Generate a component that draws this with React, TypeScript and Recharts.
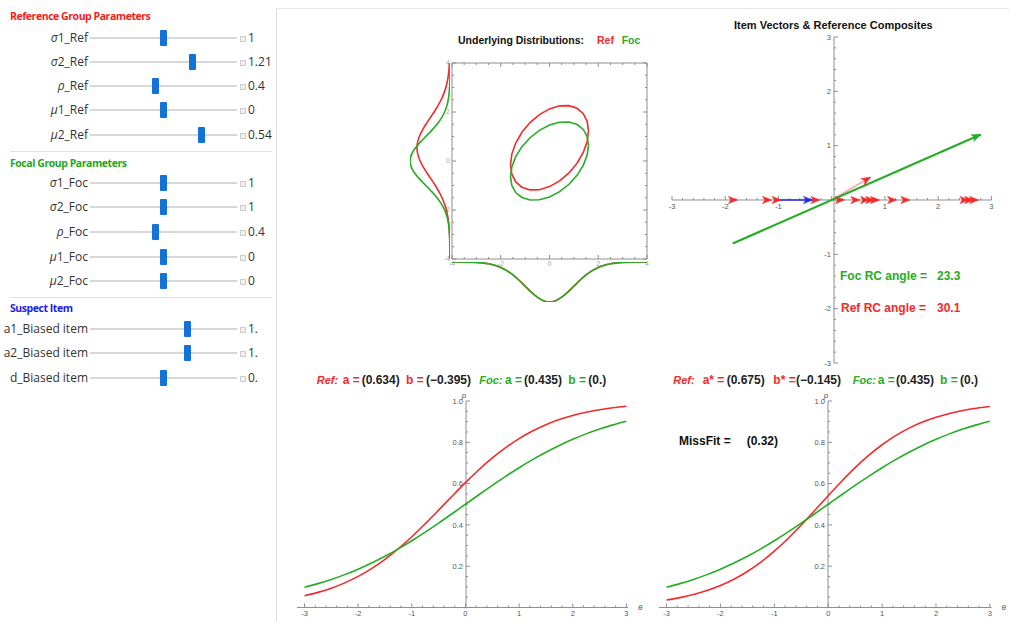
import React from 'react';
import { LineChart, Line, XAxis, YAxis, ComposedChart, Scatter } from 'recharts';

// ---------------- parameter panel ----------------
const refLabels = ['σ1_Ref', 'σ2_Ref', 'ρ_Ref', 'μ1_Ref', 'μ2_Ref'];
const refValues = ['1', '1.21', '0.4', '0', '0.54'];
const refSlider = [0.5, 0.71, 0.44, 0.5, 0.77];
const focLabels = ['σ1_Foc', 'σ2_Foc', 'ρ_Foc', 'μ1_Foc', 'μ2_Foc'];
const focValues = ['1', '1', '0.4', '0', '0'];
const focSlider = [0.5, 0.5, 0.44, 0.5, 0.5];
const itemLabels = ['a1_Biased item', 'a2_Biased item', 'd_Biased item'];
const itemValues = ['1.', '1.', '0.'];
const itemSlider = [0.67, 0.67, 0.5];

// ---------------- underlying distributions ----------------
const ellipseX = [1.6, 1.5455, 1.3856, 1.1314, 0.8, 0.4141, 0, -0.4141, -0.8, -1.1314, -1.3856, -1.5455, -1.6, -1.5455, -1.3856, -1.1314, -0.8, -0.4141, 0, 0.4141, 0.8, 1.1314, 1.3856, 1.5455, 1.6];
const focEllipseY = [0.64, 0.9977, 1.2875, 1.4894, 1.59, 1.582, 1.4664, 1.2508, 0.95, 0.5844, 0.1789, -0.2387, -0.64, -0.9977, -1.2875, -1.4894, -1.59, -1.582, -1.4664, -1.2508, -0.95, -0.5844, -0.1789, 0.2387, 0.64];
const refEllipseY = [1.232, 1.619, 1.932, 2.15, 2.259, 2.251, 2.126, 1.892, 1.567, 1.172, 0.734, 0.282, -0.152, -0.539, -0.852, -1.07, -1.179, -1.171, -1.046, -0.812, -0.487, -0.092, 0.347, 0.798, 1.232];

const margGrid = [-4, -3.75, -3.5, -3.25, -3, -2.75, -2.5, -2.25, -2, -1.75, -1.5, -1.25, -1, -0.75, -0.5, -0.25, 0, 0.25, 0.5, 0.75, 1, 1.25, 1.5, 1.75, 2, 2.25, 2.5, 2.75, 3, 3.25, 3.5, 3.75, 4];
const focDensityY = [0.0001, 0.0004, 0.0009, 0.002, 0.0044, 0.0091, 0.0175, 0.0317, 0.054, 0.0863, 0.1295, 0.1826, 0.242, 0.3011, 0.3521, 0.3867, 0.3989, 0.3867, 0.3521, 0.3011, 0.242, 0.1826, 0.1295, 0.0863, 0.054, 0.0317, 0.0175, 0.0091, 0.0044, 0.002, 0.0009, 0.0004, 0.0001];
const refDensityY = [0.0003, 0.0006, 0.0013, 0.0024, 0.0046, 0.0082, 0.014, 0.0231, 0.0364, 0.055, 0.0796, 0.1104, 0.1467, 0.1868, 0.2279, 0.2664, 0.2984, 0.3204, 0.3295, 0.3248, 0.3067, 0.2775, 0.2407, 0.2, 0.1592, 0.1215, 0.0888, 0.0622, 0.0417, 0.0268, 0.0165, 0.0098, 0.0055];
const focDensityX = [0.0001, 0.0004, 0.0009, 0.002, 0.0044, 0.0091, 0.0175, 0.0317, 0.054, 0.0863, 0.1295, 0.1826, 0.242, 0.3011, 0.3521, 0.3867, 0.3989, 0.3867, 0.3521, 0.3011, 0.242, 0.1826, 0.1295, 0.0863, 0.054, 0.0317, 0.0175, 0.0091, 0.0044, 0.002, 0.0009, 0.0004, 0.0001];
const refDensityX = [0.0001, 0.0004, 0.0009, 0.002, 0.0044, 0.0091, 0.0175, 0.0317, 0.054, 0.0863, 0.1295, 0.1826, 0.242, 0.3011, 0.3521, 0.3867, 0.3989, 0.3867, 0.3521, 0.3011, 0.242, 0.1826, 0.1295, 0.0863, 0.054, 0.0317, 0.0175, 0.0091, 0.0044, 0.002, 0.0009, 0.0004, 0.0001];

// ---------------- item vectors ----------------
const focVecX = [-1.86, 2.8];
const focVecY = [-0.8, 1.206];
const refVecX = [0, 0.73];
const refVecY = [0, 0.42];
const itemVecX = [-1.02, -0.36];
const itemVecY = [0, 0];
const axisItemTips = [-1.77, -1.13, -0.95, -0.22, 0.24, 0.53, 0.71, 0.81, 0.9, 1.22, 1.47, 2.58, 2.67, 2.76];
const focAngle = '23.3';
const refAngle = '30.1';

// ---------------- ICCs ----------------
const thetaGrid = [-3, -2.75, -2.5, -2.25, -2, -1.75, -1.5, -1.25, -1, -0.75, -0.5, -0.25, 0, 0.25, 0.5, 0.75, 1, 1.25, 1.5, 1.75, 2, 2.25, 2.5, 2.75, 3];
const iccFoc = [0.0981, 0.1157, 0.136, 0.1592, 0.1856, 0.2151, 0.248, 0.2841, 0.3231, 0.3648, 0.4086, 0.4539, 0.5, 0.5461, 0.5914, 0.6352, 0.6769, 0.7159, 0.752, 0.7849, 0.8144, 0.8408, 0.864, 0.8843, 0.9019];
const iccRefObserved = [0.0569, 0.0732, 0.0937, 0.1193, 0.1506, 0.1884, 0.2331, 0.2847, 0.3425, 0.4055, 0.4717, 0.539, 0.6049, 0.6671, 0.7241, 0.7745, 0.8181, 0.8548, 0.8852, 0.9099, 0.9296, 0.9454, 0.9577, 0.9674, 0.9749];
const iccRefComposite = [0.0364, 0.0479, 0.0628, 0.082, 0.1063, 0.1369, 0.1744, 0.2196, 0.2727, 0.3331, 0.3995, 0.4699, 0.5415, 0.6114, 0.677, 0.7363, 0.7881, 0.8322, 0.8685, 0.8979, 0.9214, 0.9398, 0.9541, 0.9652, 0.9736];
const missFit = '(0.32)';

// ---------------- styles ----------------
const RED = '#f42a2a';
const GREEN = '#25ad25';
const BLUE = '#2a2ae6';
const AXIS = '#8e8e8e';
const FONT_UI = '"Open Sans", "Noto Sans", sans-serif';
const FONT_M = '"Liberation Sans", Arial, sans-serif';

const range = (a: number, b: number, s: number) => {
  const n = Math.round((b - a) / s);
  const out: number[] = [];
  for (let i = 0; i <= n; i++) out.push(Math.round((a + i * s) * 10000) / 10000);
  return out;
};
const distTicks = range(-4, 4, 0.5);
const vecTicks = range(-3, 3, 0.2);
const iccXTicks = range(-3, 3, 0.2);
const iccYTicks = range(0.05, 1, 0.05);

const at = (l: number, t: number): React.CSSProperties => ({ position: 'absolute', left: l, top: t });

type TickOpt = { major: number; majLen: number; minLen: number; labels?: boolean; hideZero?: boolean; digits?: number; color?: string; size?: number; gap?: number };
function mkTick(side: 'bottom' | 'top' | 'left' | 'right', o: TickOpt) {
  return (p: any) => {
    const v = Number(p.payload?.value);
    const isMaj = Math.abs(v / o.major - Math.round(v / o.major)) < 1e-6;
    const len = isMaj ? o.majLen : o.minLen;
    const x = p.x, y = p.y;
    const show = !!o.labels && isMaj && !(o.hideZero && Math.abs(v) < 1e-9);
    const txt = o.digits != null ? v.toFixed(o.digits) : String(Math.round(v * 100) / 100);
    const fs = o.size ?? 7.5;
    const gap = o.gap ?? 3;
    const fill = o.color ?? '#555';
    let ln: any = null, tx: any = null;
    if (side === 'bottom') {
      ln = <line x1={x} y1={y} x2={x} y2={y - len} stroke={AXIS} />;
      if (show) tx = <text x={x} y={y + gap + fs * 0.75} textAnchor="middle" fontSize={fs} fill={fill} fontFamily={FONT_M}>{txt}</text>;
    } else if (side === 'top') {
      ln = <line x1={x} y1={y} x2={x} y2={y + len} stroke={AXIS} />;
    } else if (side === 'left') {
      ln = <line x1={x} y1={y} x2={x + len} y2={y} stroke={AXIS} />;
      if (show) tx = <text x={x - gap} y={y + fs * 0.35} textAnchor="end" fontSize={fs} fill={fill} fontFamily={FONT_M}>{txt}</text>;
    } else {
      ln = <line x1={x} y1={y} x2={x - len} y2={y} stroke={AXIS} />;
    }
    return <g>{ln}{tx}</g>;
  };
}

const axisCommon = { interval: 0 as const, tickSize: 0, tickMargin: 0, tickLine: false, allowDataOverflow: true, axisLine: { stroke: AXIS } };

function Txt({ x, y, size = 12, color = '#111', bold = true, italic = false, font = FONT_M, children }: any) {
  const lh = Math.round(size * 1.25);
  return (
    <div style={{ position: 'absolute', left: x, top: y - lh / 2, fontSize: size, lineHeight: `${lh}px`, fontFamily: font, fontWeight: bold ? 700 : 400, fontStyle: italic ? 'italic' : 'normal', color, whiteSpace: 'pre' }}>
      {children}
    </div>
  );
}

function Arrowhead({ cx, cy, angle, color }: any) {
  return <path d="M0,0 L-9,-3.6 L-6.6,0 L-9,3.6 Z" fill={color} stroke={color} strokeWidth={0.6} strokeLinejoin="round" transform={`translate(${cx},${cy}) rotate(${angle})`} />;
}

const tipDot = (color: string, xs: number[], ys: number[]) => (p: any) => {
  const last = xs.length - 1;
  if (p.index !== last) return <g key={`n${p.index}`} />;
  let ang: number;
  if (p.points && p.points.length > 1) {
    const a = p.points[last - 1], b = p.points[last];
    ang = (Math.atan2(b.y - a.y, b.x - a.x) * 180) / Math.PI;
  } else {
    ang = (-Math.atan2(ys[last] - ys[last - 1], xs[last] - xs[last - 1]) * 180) / Math.PI;
  }
  return <Arrowhead key={`t${p.index}`} cx={p.cx} cy={p.cy} angle={ang} color={color} />;
};

// ---------------- components ----------------
function Label({ s }: { s: string }) {
  if (/[σρμ]/.test(s[0])) return <><i>{s[0]}</i>{s.slice(1)}</>;
  return <>{s}</>;
}

function SliderRow({ y, label, value, frac }: any) {
  return (
    <>
      <div style={{ position: 'absolute', left: 0, width: 88, top: y - 9, height: 18, lineHeight: '18px', textAlign: 'right', fontFamily: FONT_UI, fontSize: 12, color: '#333', whiteSpace: 'pre' }}>
        <Label s={label} />
      </div>
      <div style={{ position: 'absolute', left: 90, top: y - 1, width: 147, height: 2, background: '#d8d8d8' }} />
      <div style={{ position: 'absolute', left: 93.5 + frac * 140 - 3.5, top: y - 8, width: 7, height: 16, background: '#1272d8', borderRadius: 1 }} />
      <div style={{ position: 'absolute', left: 240, top: y - 2, width: 4, height: 4, border: '1px solid #cdcdcd', background: '#f0f0f0' }} />
      <div style={{ position: 'absolute', left: 248, top: y - 9, height: 18, lineHeight: '18px', fontFamily: FONT_UI, fontSize: 12, color: '#333' }}>{value}</div>
    </>
  );
}

function Header({ y, color, children }: any) {
  return (
    <div style={{ position: 'absolute', left: 10, top: y - 8, lineHeight: '16px', fontFamily: FONT_UI, fontWeight: 700, fontSize: 10.5, letterSpacing: -0.45, color, whiteSpace: 'pre' }}>{children}</div>
  );
}

function ParamPanel() {
  const refY = [37.7, 62, 86, 110.3, 135];
  const focY = [183.3, 207.3, 232.3, 256.7, 280.7];
  const itemY = [329.3, 352.7, 377.7];
  return (
    <>
      <Header y={16} color="#f21e1e">Reference Group Parameters</Header>
      {refLabels.map((l, i) => <SliderRow key={l} y={refY[i]} label={l} value={refValues[i]} frac={refSlider[i]} />)}
      <div style={{ position: 'absolute', left: 10, top: 151, width: 262, height: 1, background: '#e2e2e2' }} />
      <Header y={162.7} color="#1ea81e">Focal Group Parameters</Header>
      {focLabels.map((l, i) => <SliderRow key={l} y={focY[i]} label={l} value={focValues[i]} frac={focSlider[i]} />)}
      <div style={{ position: 'absolute', left: 10, top: 296.7, width: 262, height: 1, background: '#e2e2e2' }} />
      <Header y={308.3} color="#1c1cf0">Suspect Item</Header>
      {itemLabels.map((l, i) => <SliderRow key={l} y={itemY[i]} label={l} value={itemValues[i]} frac={itemSlider[i]} />)}
    </>
  );
}

function DistributionPanel() {
  const focE = ellipseX.map((x, i) => ({ x, y: focEllipseY[i] }));
  const refE = ellipseX.map((x, i) => ({ x, y: refEllipseY[i] }));
  const leftRef = margGrid.map((y, i) => ({ d: refDensityY[i], y }));
  const leftFoc = margGrid.map((y, i) => ({ d: focDensityY[i], y }));
  const botRef = margGrid.map((x, i) => ({ x, d: refDensityX[i] }));
  const botFoc = margGrid.map((x, i) => ({ x, d: focDensityX[i] }));
  const frameOpt = { major: 2, majLen: 4, minLen: 2, labels: true, color: '#a8a8a8', size: 7, gap: 2 };
  return (
    <>
      <Txt x={458} y={40} size={10.5}>Underlying Distributions:</Txt>
      <Txt x={597} y={40} size={10.5} color={RED}>Ref</Txt>
      <Txt x={621.7} y={40} size={10.5} color={GREEN}>Foc</Txt>
      <div style={at(431.7, 57.3)}>
        <ComposedChart width={221} height={216} margin={{ top: 0, right: 0, bottom: 0, left: 0 }}>
          <XAxis xAxisId="b" type="number" dataKey="x" domain={[-4, 4]} ticks={distTicks} {...axisCommon} height={14} tick={mkTick('bottom', frameOpt)} />
          <XAxis xAxisId="t" orientation="top" type="number" dataKey="x" domain={[-4, 4]} ticks={distTicks} {...axisCommon} height={6} tick={mkTick('top', { ...frameOpt, labels: false })} />
          <YAxis yAxisId="l" type="number" domain={[-4, 4]} ticks={distTicks} {...axisCommon} width={20} tick={mkTick('left', frameOpt)} />
          <YAxis yAxisId="r" orientation="right" type="number" domain={[-4, 4]} ticks={distTicks} {...axisCommon} width={6} tick={mkTick('right', { ...frameOpt, labels: false })} />
          <Line xAxisId="b" yAxisId="l" data={refE} dataKey="y" type="linear" stroke={RED} strokeWidth={1.6} dot={false} isAnimationActive={false} />
          <Line xAxisId="b" yAxisId="l" data={focE} dataKey="y" type="linear" stroke={GREEN} strokeWidth={1.6} dot={false} isAnimationActive={false} />
        </ComposedChart>
      </div>
      <div style={at(406, 59.3)}>
        <LineChart width={48} height={204} margin={{ top: 4, right: 4, bottom: 4, left: 4 }}>
          <XAxis type="number" dataKey="d" domain={[0, 0.4]} reversed hide allowDataOverflow />
          <YAxis type="number" domain={[-4, 4]} hide allowDataOverflow />
          <Line data={leftRef} dataKey="y" type="natural" stroke={RED} strokeWidth={1.6} dot={false} isAnimationActive={false} />
          <Line data={leftFoc} dataKey="y" type="natural" stroke={GREEN} strokeWidth={1.6} dot={false} isAnimationActive={false} />
        </LineChart>
      </div>
      <div style={at(447.7, 258.3)}>
        <LineChart width={203} height={48} margin={{ top: 4, right: 4, bottom: 4, left: 4 }}>
          <XAxis type="number" dataKey="x" domain={[-4, 4]} hide allowDataOverflow />
          <YAxis type="number" domain={[0, 0.4]} reversed hide allowDataOverflow />
          <Line data={botRef} dataKey="d" type="monotone" stroke={RED} strokeWidth={1.6} dot={false} isAnimationActive={false} />
          <Line data={botFoc} dataKey="d" type="monotone" stroke={GREEN} strokeWidth={1.6} dot={false} isAnimationActive={false} />
        </LineChart>
      </div>
    </>
  );
}

function VectorPanel() {
  const VX0 = 672.3, VX1 = 991.7, VY_TOP = 37.3, VY_BOT = 363.3, AX_Y = 200.3, AX_X = 834;
  const pw = VX1 - VX0, ph = VY_BOT - VY_TOP;
  const focData = focVecX.map((x, i) => ({ x, y: focVecY[i] }));
  const refData = refVecX.map((x, i) => ({ x, y: refVecY[i] }));
  const itemData = itemVecX.map((x, i) => ({ x, y: itemVecY[i] }));
  const tipData = axisItemTips.map((x) => ({ x, y: 0 }));
  const axOpt = { major: 1, majLen: 4, minLen: 2, labels: true, hideZero: true, size: 7.5, gap: 3 };
  return (
    <>
      <Txt x={734} y={24.7} size={11}>Item Vectors &amp; Reference Composites</Txt>
      <div style={at(VX0 - 10, AX_Y - 10)}>
        <LineChart width={pw + 20} height={30} margin={{ top: 0, right: 10, bottom: 0, left: 10 }}>
          <XAxis type="number" dataKey="x" domain={[-3, 3]} ticks={vecTicks} {...axisCommon} height={20} tick={mkTick('bottom', axOpt)} />
          <YAxis type="number" domain={[0, 1]} hide />
        </LineChart>
      </div>
      <div style={at(AX_X - 20, VY_TOP - 10)}>
        <LineChart width={30} height={ph + 20} margin={{ top: 10, right: 0, bottom: 10, left: 0 }}>
          <XAxis type="number" dataKey="x" domain={[0, 1]} hide />
          <YAxis type="number" domain={[-3, 3]} ticks={vecTicks} {...axisCommon} width={20} tick={mkTick('left', axOpt)} />
        </LineChart>
      </div>
      <div style={at(VX0 - 10, VY_TOP - 10)}>
        <ComposedChart width={pw + 20} height={ph + 20} margin={{ top: 10, right: 10, bottom: 10, left: 10 }}>
          <XAxis type="number" dataKey="x" domain={[-3, 3]} hide allowDataOverflow />
          <YAxis type="number" dataKey="y" domain={[-3, 3]} hide allowDataOverflow />
          <Line data={refData} dataKey="y" type="linear" stroke="#f6a3a3" strokeWidth={1.6} dot={tipDot(RED, refVecX, refVecY)} isAnimationActive={false} />
          <Line data={itemData} dataKey="y" type="linear" stroke={BLUE} strokeWidth={1.6} dot={tipDot(BLUE, itemVecX, itemVecY)} isAnimationActive={false} />
          <Scatter data={tipData} fill={RED} isAnimationActive={false} shape={(p: any) => <Arrowhead cx={p.cx} cy={p.cy} angle={0} color={RED} />} />
          <Line data={focData} dataKey="y" type="linear" stroke={GREEN} strokeWidth={2.2} dot={tipDot(GREEN, focVecX, focVecY)} isAnimationActive={false} />
        </ComposedChart>
      </div>
      <Txt x={840} y={276} color={GREEN}>Foc RC angle =</Txt>
      <Txt x={937} y={276} color={GREEN}>{focAngle}</Txt>
      <Txt x={841} y={308.3} color={RED}>Ref RC angle =</Txt>
      <Txt x={937} y={308.3} color={RED}>{refAngle}</Txt>
    </>
  );
}

function IccChart({ plotLeft, plotRight, axisX, refSeries }: any) {
  const TOP = 400.5, BOT = 607;
  const ph = BOT - TOP;
  const pw = plotRight - plotLeft;
  const rows = thetaGrid.map((t, i) => ({ t, ref: refSeries[i], foc: iccFoc[i] }));
  const xOpt = { major: 1, majLen: 4, minLen: 2, labels: true, size: 7.5, gap: 3 };
  const yOpt = { major: 0.2, majLen: 4, minLen: 2, labels: true, hideZero: true, digits: 1, size: 7.5, gap: 3 };
  return (
    <>
      <div style={at(axisX - 24, TOP - 10)}>
        <LineChart width={34} height={ph + 24} margin={{ top: 10, right: 0, bottom: 14, left: 0 }}>
          <XAxis type="number" dataKey="t" domain={[0, 1]} hide />
          <YAxis type="number" domain={[0, 1]} ticks={iccYTicks} {...axisCommon} width={24} tick={mkTick('left', yOpt)}
            label={{ value: 'p', position: 'top', dx: 10, offset: 3, fontSize: 8, fontStyle: 'italic', fill: '#555', fontFamily: FONT_M }} />
        </LineChart>
      </div>
      <div style={at(plotLeft - 10, TOP - 10)}>
        <LineChart width={pw + 30} height={ph + 24} data={rows} margin={{ top: 10, right: 20, bottom: 0, left: 10 }}>
          <XAxis type="number" dataKey="t" domain={[-3.14, 3.03]} ticks={iccXTicks} {...axisCommon} height={14} tick={mkTick('bottom', xOpt)}
            label={{ value: 'θ', position: 'right', offset: 10, dy: -7, fontSize: 8, fontStyle: 'italic', fill: '#555', fontFamily: FONT_M }} />
          <YAxis type="number" domain={[0, 1]} hide allowDataOverflow />
          <Line dataKey="ref" type="monotone" stroke={RED} strokeWidth={1.6} dot={false} isAnimationActive={false} />
          <Line dataKey="foc" type="monotone" stroke={GREEN} strokeWidth={1.6} dot={false} isAnimationActive={false} />
        </LineChart>
      </div>
    </>
  );
}

const leftTitle = [
  { t: 'Ref:', c: RED, i: true, x: 316.7 },
  { t: 'a =', c: RED, x: 342.7 },
  { t: '(0.634)', c: '#222', x: 361.7 },
  { t: 'b =', c: RED, x: 406 },
  { t: '(−0.395)', c: '#222', x: 426 },
  { t: 'Foc:', c: GREEN, i: true, x: 479.3 },
  { t: 'a =', c: GREEN, x: 505 },
  { t: '(0.435)', c: '#222', x: 524 },
  { t: 'b =', c: GREEN, x: 568.3 },
  { t: '(0.)', c: '#222', x: 588.3 },
];
const rightTitle = [
  { t: 'Ref:', c: RED, i: true, x: 673.3 },
  { t: 'a* =', c: RED, x: 702.7 },
  { t: '(0.675)', c: '#222', x: 726.7 },
  { t: 'b* =', c: RED, x: 773.3 },
  { t: '(−0.145)', c: '#222', x: 796 },
  { t: 'Foc:', c: GREEN, i: true, x: 852.7 },
  { t: 'a =', c: GREEN, x: 877.7 },
  { t: '(0.435)', c: '#222', x: 896 },
  { t: 'b =', c: GREEN, x: 940 },
  { t: '(0.)', c: '#222', x: 960 },
];

export default function App() {
  return (
    <div style={{ position: 'absolute', left: 0, top: 0, width: 1009, height: 621, background: '#fff', overflow: 'hidden' }}>
      <ParamPanel />
      <div style={{ position: 'absolute', left: 276, top: 8, width: 760, height: 640, borderLeft: '1px solid #dcdcdc', borderTop: '1px solid #e8e8e8' }} />
      <DistributionPanel />
      <VectorPanel />
      {leftTitle.map((s, k) => <Txt key={`l${k}`} x={s.x} y={380} size={s.i ? 11 : 12} color={s.c} italic={!!s.i}>{s.t}</Txt>)}
      {rightTitle.map((s, k) => <Txt key={`r${k}`} x={s.x} y={380} size={s.i ? 11 : 12} color={s.c} italic={!!s.i}>{s.t}</Txt>)}
      <Txt x={679} y={441.7}>MissFit =</Txt>
      <Txt x={746.7} y={441.7}>{missFit}</Txt>
      <IccChart plotLeft={297.3} plotRight={628.3} axisX={465.7} refSeries={iccRefObserved} />
      <IccChart plotLeft={658.8} plotRight={991.3} axisX={828.3} refSeries={iccRefComposite} />
    </div>
  );
}
